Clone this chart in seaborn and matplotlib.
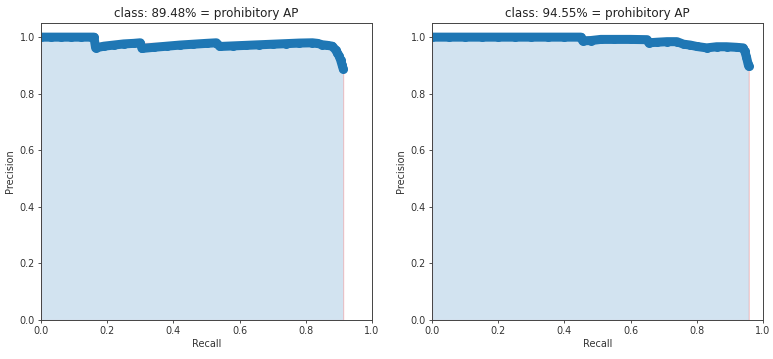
import numpy as np
import pandas as pd
import matplotlib
matplotlib.use("Agg")
import matplotlib.pyplot as plt
import seaborn as sns

# ---- data ----
titles = ["class: 89.48% = prohibitory AP", "class: 94.55% = prohibitory AP"]

rec_left = [0.0, 0.03, 0.06, 0.09, 0.12, 0.15, 0.16, 0.165, 0.19, 0.22, 0.25, 0.28, 0.30,
            0.305, 0.34, 0.38, 0.42, 0.46, 0.50, 0.53, 0.54, 0.58, 0.62, 0.66, 0.70, 0.74,
            0.78, 0.82, 0.835, 0.85, 0.865, 0.88, 0.89, 0.895, 0.90, 0.905, 0.91, 0.913]
prec_left = [1.0, 1.0, 1.0, 1.0, 1.0, 1.0, 1.0, 0.962, 0.968, 0.972, 0.976, 0.978, 0.98,
             0.96, 0.964, 0.968, 0.972, 0.975, 0.978, 0.98, 0.967, 0.969, 0.971, 0.973, 0.975, 0.977,
             0.979, 0.98, 0.978, 0.973, 0.971, 0.968, 0.955, 0.945, 0.935, 0.92, 0.90, 0.888]

rec_right = [0.0, 0.05, 0.10, 0.15, 0.20, 0.25, 0.30, 0.35, 0.40, 0.45, 0.455, 0.48, 0.51,
             0.55, 0.60, 0.65, 0.655, 0.68, 0.71, 0.74, 0.76, 0.78, 0.80, 0.83, 0.86, 0.89,
             0.92, 0.94, 0.945, 0.95, 0.955, 0.957]
prec_right = [1.0, 1.0, 1.0, 1.0, 1.0, 1.0, 1.0, 1.0, 1.0, 1.0, 0.987, 0.988, 0.992,
              0.992, 0.992, 0.991, 0.98, 0.982, 0.984, 0.984, 0.975, 0.972, 0.967, 0.962, 0.966, 0.966,
              0.964, 0.962, 0.95, 0.93, 0.905, 0.897]

ticks = [0.0, 0.2, 0.4, 0.6, 0.8, 1.0]
tick_labels = ["0.0", "0.2", "0.4", "0.6", "0.8", "1.0"]

fig = plt.figure(figsize=(7.73, 3.59), dpi=100)
W, H = 773, 359
boxes = [(41, 23, 331, 297), (432, 23, 331, 297)]
series = [(rec_left, prec_left), (rec_right, prec_right)]

for (x0, y0, w, h), (rec, prec), title in zip(boxes, series, titles):
    ax = fig.add_axes([x0 / W, 1 - (y0 + h) / H, w / W, h / H])
    rec = np.asarray(rec)
    prec = np.asarray(prec)
    env = np.maximum.accumulate(prec[::-1])[::-1]
    ax.fill_between(rec, 0, env, alpha=0.2, edgecolor="r", facecolor="#1f77b4", linewidth=0.8)
    df = pd.DataFrame({"Recall": rec, "Precision": prec})
    sns.lineplot(data=df, x="Recall", y="Precision", ax=ax, sort=False, estimator=None,
                 color="#1f77b4", linewidth=6.5, marker="o", markersize=6.5,
                 markeredgewidth=0, solid_capstyle="round", solid_joinstyle="round")
    ax.set_xlim(0, 1.0)
    ax.set_ylim(0, 1.05)
    ax.set_xticks(ticks)
    ax.set_xticklabels(tick_labels)
    ax.set_yticks(ticks)
    ax.set_yticklabels(tick_labels)
    ax.tick_params(labelsize=6.9, length=2.5, width=0.6, pad=2, colors="#333333")
    for s in ax.spines.values():
        s.set_linewidth(0.7)
        s.set_color("#444444")
    ax.set_xlabel("Recall", fontsize=7.0, labelpad=2, color="#333333")
    ax.set_ylabel("Precision", fontsize=7.0, labelpad=3, color="#333333")
    ax.set_title(title, fontsize=8.6, pad=4, color="#222222")

fig.savefig("out.png", dpi=100)
